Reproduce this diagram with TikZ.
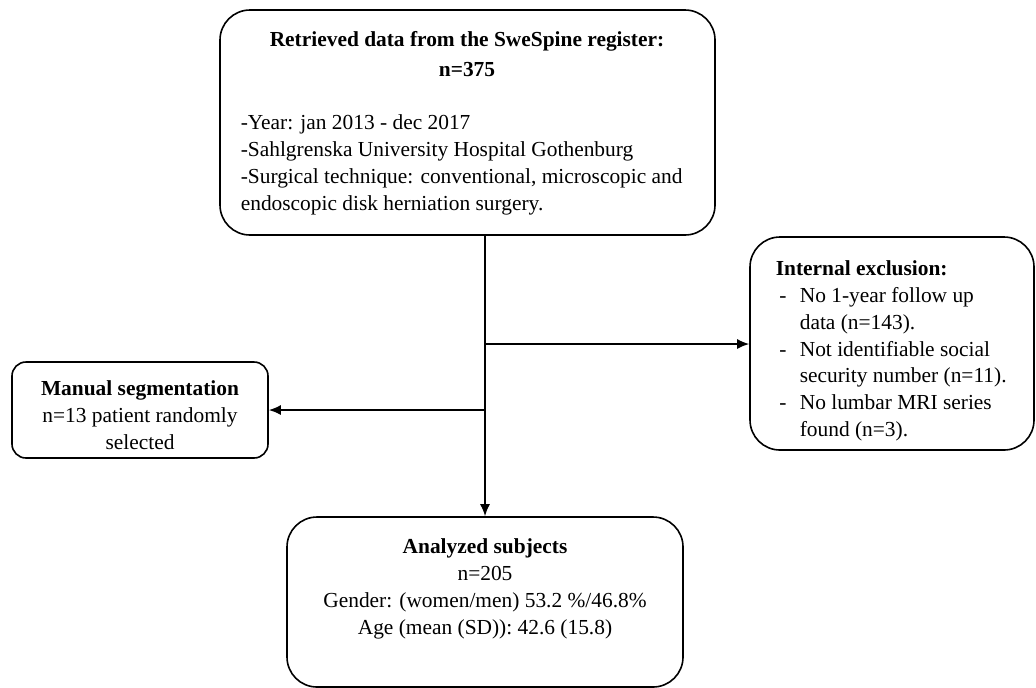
\documentclass[tikz,border=0pt]{standalone}
\usepackage{fontspec}
\setmainfont{Liberation Serif}
\usepackage{tikz}
\usetikzlibrary{arrows,arrows.meta,positioning,calc}
\tikzset{>={Latex[length=6pt,width=5pt]}}
\tikzset{
  stagebox/.style={draw,rounded corners=15pt,line width=0.8pt,inner sep=0pt},
  smallbox/.style={draw,rounded corners=7pt,line width=0.8pt,inner sep=0pt},
  boxtext/.style={inner sep=0pt,font=\fontsize{10.7}{13.4}\selectfont}
}

\begin{document}
\begin{tikzpicture}[x=0.5pt,y=-0.5pt,line width=0.8pt]
\useasboundingbox (0,0) rectangle (1036,687);

\node [stagebox,minimum width=247.5pt,minimum height=112.5pt] (reg) at (467.5,122.5) {};
\node [stagebox,minimum width=142pt,minimum height=106.5pt] (excl) at (892,343.5) {};
\node [smallbox,minimum width=128pt,minimum height=48pt] (manual) at (140,410) {};
\node [stagebox,minimum width=198pt,minimum height=85pt] (anal) at (485,602) {};

\node [boxtext,align=center] (regtitle) at (467,54) {\textbf{Retrieved data from the SweSpine register:}\\[2pt]\textbf{n=375}};
\node [boxtext,align=left,anchor=west] (regbody) at (240,165) {-Year: jan 2013 - dec 2017\\-Sahlgrenska University Hospital Gothenburg\\-Surgical technique: conventional, microscopic and\\endoscopic disk herniation surgery.};
\node [boxtext,align=left,anchor=west] (excltext) at (775,351) {\textbf{Internal exclusion:}\\
\makebox[12pt][l]{\,-}No 1-year follow up\\\hspace*{12pt}data (n=143).\\
\makebox[12pt][l]{\,-}Not identifiable social\\\hspace*{12pt}security number (n=11).\\
\makebox[12pt][l]{\,-}No lumbar MRI series\\\hspace*{12pt}found (n=3).};
\node [boxtext,align=center] (manualtext) at (140,415) {\textbf{Manual segmentation}\\n=13 patient randomly\\selected};
\node [boxtext,align=center] (analtext) at (485,589) {\textbf{Analyzed subjects}\\n=205\\Gender: (women/men) 53.2 \%/46.8\%\\Age (mean (SD)): 42.6 (15.8)};

\coordinate (split) at (484,344);
\draw[->] (anal.north |- reg.south) -- (anal.north);
\draw[->] (split -| anal.north) -- (split -| excl.west);
\draw[->] (manual.east -| anal.north) -- (manual.east);

\end{tikzpicture}
\end{document}
